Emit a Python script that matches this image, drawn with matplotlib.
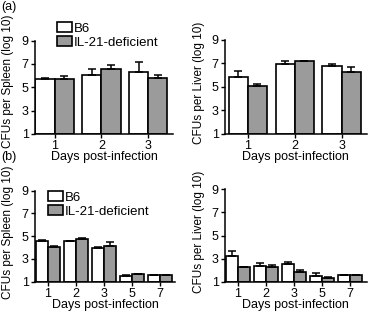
import numpy as np
import matplotlib
matplotlib.use("Agg")
import matplotlib.pyplot as plt

plt.rcParams["font.family"] = ["Liberation Sans", "DejaVu Sans"]
plt.rcParams["font.size"] = 9

# ---------------------------------------------------------
# DATA (log10 CFUs, mean and SEM)
# ---------------------------------------------------------
days_a = ["1", "2", "3"]
days_b = ["1", "2", "3", "5", "7"]

spleen_a_b6 = [5.70, 6.04, 6.30]
spleen_a_b6_sem = [0.10, 0.54, 0.83]
spleen_a_il21 = [5.68, 6.53, 5.76]
spleen_a_il21_sem = [0.25, 0.34, 0.26]

liver_a_b6 = [5.82, 6.92, 6.75]
liver_a_b6_sem = [0.48, 0.28, 0.17]
liver_a_il21 = [5.09, 7.18, 6.24]
liver_a_il21_sem = [0.16, 0.03, 0.46]

spleen_b_b6 = [4.55, 4.55, 4.00, 1.51, 1.62]
spleen_b_b6_sem = [0.14, 0.05, 0.07, 0.04, 0.0]
spleen_b_il21 = [4.04, 4.74, 4.17, 1.65, 1.62]
spleen_b_il21_sem = [0.06, 0.06, 0.33, 0.07, 0.0]

liver_b_b6 = [3.21, 2.33, 2.56, 1.51, 1.56]
liver_b_b6_sem = [0.45, 0.29, 0.14, 0.28, 0.0]
liver_b_il21 = [2.30, 2.30, 1.85, 1.34, 1.56]
liver_b_il21_sem = [0.0, 0.11, 0.14, 0.06, 0.0]

GREY = "#9b9b9b"
W, H = 368.0, 312.0


def draw_panel(ax, days, b6, b6_sem, il21, il21_sem, ylabel, width, xlim,
               ylab_xy):
    x = np.arange(len(days))
    zeros = [0] * len(days)
    ax.bar(x - width / 2, np.array(b6) - 1, width, bottom=1,
           color="white", edgecolor="black", linewidth=1.2,
           yerr=[zeros, b6_sem], capsize=3,
           error_kw=dict(ecolor="black", elinewidth=1.1, capthick=1.1),
           label="B6", zorder=2)
    ax.bar(x + width / 2, np.array(il21) - 1, width, bottom=1,
           color=GREY, edgecolor="black", linewidth=1.2,
           yerr=[zeros, il21_sem], capsize=3,
           error_kw=dict(ecolor="black", elinewidth=1.1, capthick=1.1),
           label="IL-21-deficient", zorder=2)
    ax.set_xticks(x)
    ax.set_xticklabels(days)
    ax.set_xlim(*xlim)
    ax.set_ylim(1, 9)
    ax.set_yticks([1, 3, 5, 7, 9])
    # label anchor is the right edge of the rotated text
    ax.set_ylabel(ylabel, fontsize=8.5)
    ax.yaxis.set_label_coords(ylab_xy[0] / W, 1 - ylab_xy[1] / H,
                              transform=fig.transFigure)
    ax.set_xlabel("Days post-infection", labelpad=-0.5)
    ax.spines["top"].set_visible(False)
    ax.spines["right"].set_visible(False)
    ax.spines["left"].set_linewidth(1.1)
    ax.spines["bottom"].set_linewidth(1.1)
    ax.tick_params(direction="out", length=3, width=1, pad=1.5)


fig = plt.figure(figsize=(3.68, 3.12), dpi=100, facecolor="white")

ax1 = fig.add_axes([0.095, 0.571, 0.375, 0.299])
ax2 = fig.add_axes([0.611, 0.572, 0.385, 0.301])
ax3 = fig.add_axes([0.095, 0.097, 0.381, 0.292])
ax4 = fig.add_axes([0.611, 0.097, 0.385, 0.296])

draw_panel(ax1, days_a, spleen_a_b6, spleen_a_b6_sem, spleen_a_il21,
           spleen_a_il21_sem, "CFUs per Spleen (log 10)", 0.41, (-0.42, 2.53),
           (14, 81))
draw_panel(ax2, days_a, liver_a_b6, liver_a_b6_sem, liver_a_il21,
           liver_a_il21_sem, "CFUs per Liver (log 10)", 0.41, (-0.49, 2.53),
           (205, 83))
draw_panel(ax3, days_b, spleen_b_b6, spleen_b_b6_sem, spleen_b_il21,
           spleen_b_il21_sem, "CFUs per Spleen (log 10)", 0.43, (-0.45, 4.55),
           (14, 232))
draw_panel(ax4, days_b, liver_b_b6, liver_b_b6_sem, liver_b_il21,
           liver_b_il21_sem, "CFUs per Liver (log 10)", 0.43, (-0.46, 4.6),
           (205, 232))

for ax, loc in [(ax1, (57, 22)), (ax3, (48, 191))]:
    ax.legend(loc="upper left", bbox_to_anchor=(loc[0] / W, 1 - loc[1] / H),
              bbox_transform=fig.transFigure, frameon=False,
              handlelength=1.15, handleheight=0.8, handletextpad=0.15,
              labelspacing=0.1, borderpad=0, borderaxespad=0, fontsize=9.5)

fig.text(0.003, 0.998, "(a)", ha="left", va="top", fontsize=9)
fig.text(0.003, 0.515, "(b)", ha="left", va="top", fontsize=9)

plt.savefig("out.png", dpi=100, facecolor="white")
plt.close("all")
